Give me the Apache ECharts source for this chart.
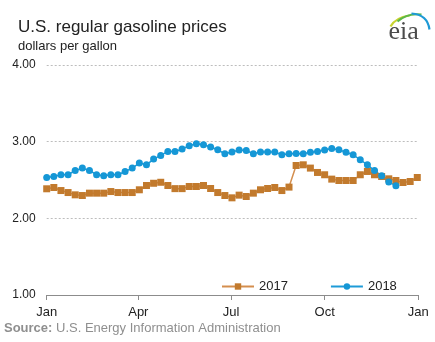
<!DOCTYPE html>
<html>
<head>
<meta charset="utf-8">
<script src="https://cdn.jsdelivr.net/npm/echarts@6/dist/echarts.min.js"></script>
<style>
  html, body { margin: 0; padding: 0; background: #fff; }
  #chart { width: 435px; height: 342px; }
</style>
</head>
<body>
<div id="chart"></div>
<script>
// Weekly U.S. regular gasoline retail prices, dollars per gallon
const seriesNames = ['2017', '2018'];
const prices2017 = [
  2.386, 2.403, 2.363, 2.337, 2.307, 2.298, 2.329, 2.329, 2.329, 2.350,
  2.337, 2.337, 2.337, 2.373, 2.429, 2.458, 2.471, 2.429, 2.388, 2.388,
  2.416, 2.416, 2.429, 2.390, 2.337, 2.298, 2.268, 2.303, 2.285, 2.329,
  2.373, 2.390, 2.403, 2.363, 2.408, 2.690, 2.699, 2.656, 2.599, 2.569,
  2.512, 2.494, 2.494, 2.494, 2.569, 2.612, 2.569, 2.546, 2.516, 2.494,
  2.468, 2.481, 2.533
];
const prices2018 = [
  2.533, 2.546, 2.569, 2.569, 2.625, 2.656, 2.625, 2.569, 2.556, 2.569,
  2.569, 2.612, 2.656, 2.722, 2.699, 2.774, 2.821, 2.873, 2.873, 2.905,
  2.948, 2.974, 2.961, 2.931, 2.895, 2.843, 2.867, 2.891, 2.885, 2.843,
  2.867, 2.867, 2.867, 2.830, 2.843, 2.847, 2.843, 2.863, 2.872, 2.891,
  2.912, 2.895, 2.863, 2.830, 2.765, 2.699, 2.624, 2.556, 2.473, 2.427
];
// Month ticks as day-of-year positions
const monthTickDays = [0, 90, 181, 273, 365];
const monthTickLabels = ['Jan', 'Apr', 'Jul', 'Oct', 'Jan'];
const yTicks = [1, 2, 3, 4];

const DAYS_PER_WEEK = 7;
const toPoints = arr => arr.map((v, i) => [i * DAYS_PER_WEEK, v]);

const chart = echarts.init(document.getElementById('chart'), null, { renderer: 'canvas' });

const FONT = '"Liberation Sans", Arial, sans-serif';

chart.setOption({
  animation: false,
  backgroundColor: '#ffffff',
  textStyle: { fontFamily: FONT },
  title: {
    text: 'U.S. regular gasoline prices',
    subtext: 'dollars per gallon',
    left: 13,
    top: 14,
    itemGap: 4,
    textStyle: { fontFamily: FONT, fontSize: 17, fontWeight: 'normal', color: '#222' },
    subtextStyle: { fontFamily: FONT, fontSize: 13, color: '#222' }
  },
  grid: { left: 46.7, right: 16.7, top: 65.1, bottom: 47 },
  legend: {
    data: seriesNames,
    left: 216,
    top: 275,
    itemWidth: 32,
    itemHeight: 8,
    itemGap: 42,
    textStyle: { fontFamily: FONT, fontSize: 13, color: '#222' }
  },
  xAxis: {
    type: 'value',
    min: 0,
    max: 365,
    axisLine: { show: true, onZero: false, lineStyle: { color: '#8c8c8c', width: 1 } },
    axisTick: { show: true, customValues: monthTickDays, length: 5, lineStyle: { color: '#8c8c8c' } },
    axisLabel: {
      customValues: monthTickDays,
      formatter: v => monthTickLabels[monthTickDays.indexOf(v)] || '',
      margin: 11,
      fontFamily: FONT,
      fontSize: 13,
      color: '#222'
    },
    splitLine: { show: false }
  },
  yAxis: {
    type: 'value',
    min: yTicks[0],
    max: yTicks[yTicks.length - 1],
    interval: 1,
    axisLine: { show: false },
    axisTick: { show: false },
    axisLabel: {
      formatter: v => v.toFixed(2),
      margin: 11,
      fontFamily: FONT,
      fontSize: 12,
      color: '#222'
    },
    splitLine: { lineStyle: { color: '#bdbdbd', type: [2, 2], width: 1 } }
  },
  series: [
    {
      name: seriesNames[0],
      type: 'line',
      data: toPoints(prices2017),
      symbol: 'rect',
      symbolSize: 7,
      itemStyle: { color: '#C27A2D' },
      lineStyle: { color: '#D48E4E', width: 1.5 },
      emphasis: { disabled: true }
    },
    {
      name: seriesNames[1],
      type: 'line',
      data: toPoints(prices2018),
      symbol: 'circle',
      symbolSize: 7,
      itemStyle: { color: '#1597D6' },
      lineStyle: { color: '#1E9BD8', width: 1.5 },
      emphasis: { disabled: true }
    }
  ],
  graphic: [
    {
      type: 'text',
      left: 4,
      top: 322,
      style: {
        text: '{b|Source:} U.S. Energy Information Administration',
        font: '13px ' + FONT,
        fill: '#8f8f8f',
        rich: {
          b: { fontWeight: 'bold', fontSize: 13, fontFamily: FONT, fill: '#8f8f8f' }
        }
      }
    },
    // eia logo
    {
      type: 'group',
      left: 388,
      top: 11,
      children: [
        {
          type: 'bezierCurve',
          shape: { x1: 3, y1: 15, x2: 22, y2: 4, cpx1: 8, cpy1: 6 },
          style: { stroke: '#c8d431', lineWidth: 2.2, fill: null }
        },
        {
          type: 'bezierCurve',
          shape: { x1: 10, y1: 10, x2: 34, y2: 3, cpx1: 20, cpy1: 1 },
          style: { stroke: '#5cb848', lineWidth: 2, fill: null }
        },
        {
          type: 'bezierCurve',
          shape: { x1: 24, y1: 2, x2: 42, y2: 18, cpx1: 40, cpy1: 3 },
          style: { stroke: '#1e9ad6', lineWidth: 2.2, fill: null }
        },
        {
          type: 'text',
          x: 1,
          y: 8,
          style: { text: 'eia', font: '26px "Liberation Serif", "DejaVu Serif", serif', fill: '#4b4b4b' }
        }
      ]
    }
  ]
});
</script>
</body>
</html>
